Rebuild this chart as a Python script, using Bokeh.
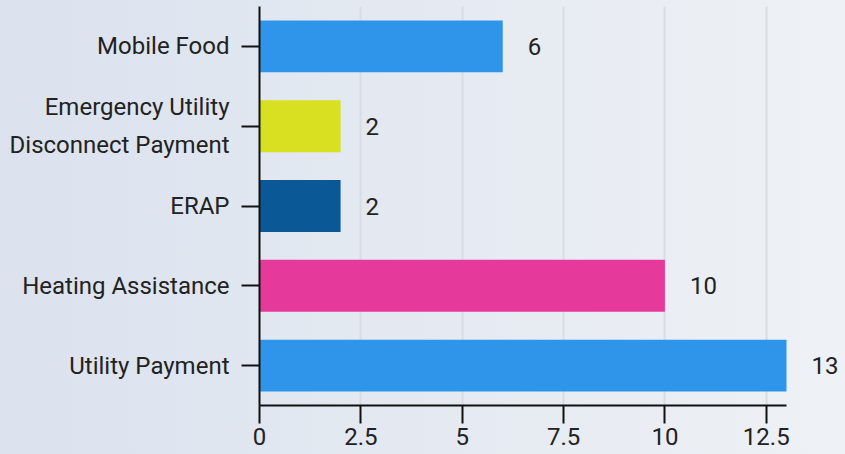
from bokeh.plotting import figure
from bokeh.models import (ColumnDataSource, FactorRange, Range1d, FixedTicker,
                          LabelSet, GlobalInlineStyleSheet)
from bokeh.core.properties import value
from bokeh.embed import file_html
from bokeh.resources import INLINE

# ---- data ----
categories = ["Mobile Food", "Emergency Utility\nDisconnect Payment", "ERAP",
              "Heating Assistance", "Utility Payment"]
values = [6, 2, 2, 10, 13]
bar_colors = ["#2f95ea", "#d8e021", "#0b5896", "#e5399b", "#2f95ea"]
x_ticks = [0, 2.5, 5, 7.5, 10, 12.5]
x_tick_labels = ["0", "2.5", "5", "7.5", "10", "12.5"]
x_axis_end = 13
x_view_end = 14.455   # frame continues to the right edge so value labels fit

FONT = "Roboto"
TEXT_COLOR = "#222222"

source = ColumnDataSource(dict(
    cat=categories,
    val=values,
    color=bar_colors,
    label=[str(v) for v in values],
))

p = figure(
    width=845, height=454,
    y_range=FactorRange(factors=list(reversed(categories))),
    x_range=Range1d(0, x_view_end),
    output_backend="svg", toolbar_location=None,
    min_border_left=259, min_border_right=0,
    min_border_top=6, min_border_bottom=49,
)
p.background_fill_alpha = 0
p.border_fill_alpha = 0
p.outline_line_color = None

p.hbar(y="cat", right="val", left=0, height=0.65, color="color",
       line_color=None, source=source)

labels = LabelSet(x="val", y="cat", text="label", source=source,
                  x_offset=25, text_align="left", text_baseline="middle",
                  text_font=value(FONT), text_font_size="24px",
                  text_color=TEXT_COLOR)
p.add_layout(labels)

# x axis
p.xaxis.bounds = (0, x_axis_end)
p.xaxis.ticker = FixedTicker(ticks=x_ticks)
p.xaxis.major_label_overrides = {t: l for t, l in zip(x_ticks, x_tick_labels)}
p.xaxis.minor_tick_line_color = None
p.xaxis.major_tick_in = 0
p.xaxis.major_tick_out = 18
p.xaxis.major_tick_line_width = 2
p.xaxis.major_tick_line_color = "#111111"
p.xaxis.axis_line_width = 2
p.xaxis.axis_line_color = "#111111"
p.xaxis.major_label_text_font = FONT
p.xaxis.major_label_text_font_size = "24px"
p.xaxis.major_label_text_color = TEXT_COLOR
p.xaxis.major_label_text_line_height = 0.6
p.xaxis.major_label_standoff = 4

# y axis
p.yaxis.major_tick_in = 0
p.yaxis.major_tick_out = 18
p.yaxis.major_tick_line_width = 2
p.yaxis.major_tick_line_color = "#111111"
p.yaxis.axis_line_width = 2
p.yaxis.axis_line_color = "#111111"
p.yaxis.major_label_text_font = FONT
p.yaxis.major_label_text_font_size = "24px"
p.yaxis.major_label_text_color = TEXT_COLOR
p.yaxis.major_label_text_line_height = 1.35
p.yaxis.major_label_standoff = 12

# grid
p.ygrid.grid_line_color = None
p.xgrid.grid_line_color = "#d9dce1"
p.xgrid.grid_line_width = 2

p.stylesheets = [GlobalInlineStyleSheet(
    css="html{min-height:100%;background:linear-gradient(to right,#dbe2ee,#eef1f5);}"
        "body{background:transparent;}")]

open("out.html", "w").write(file_html(p, INLINE))
